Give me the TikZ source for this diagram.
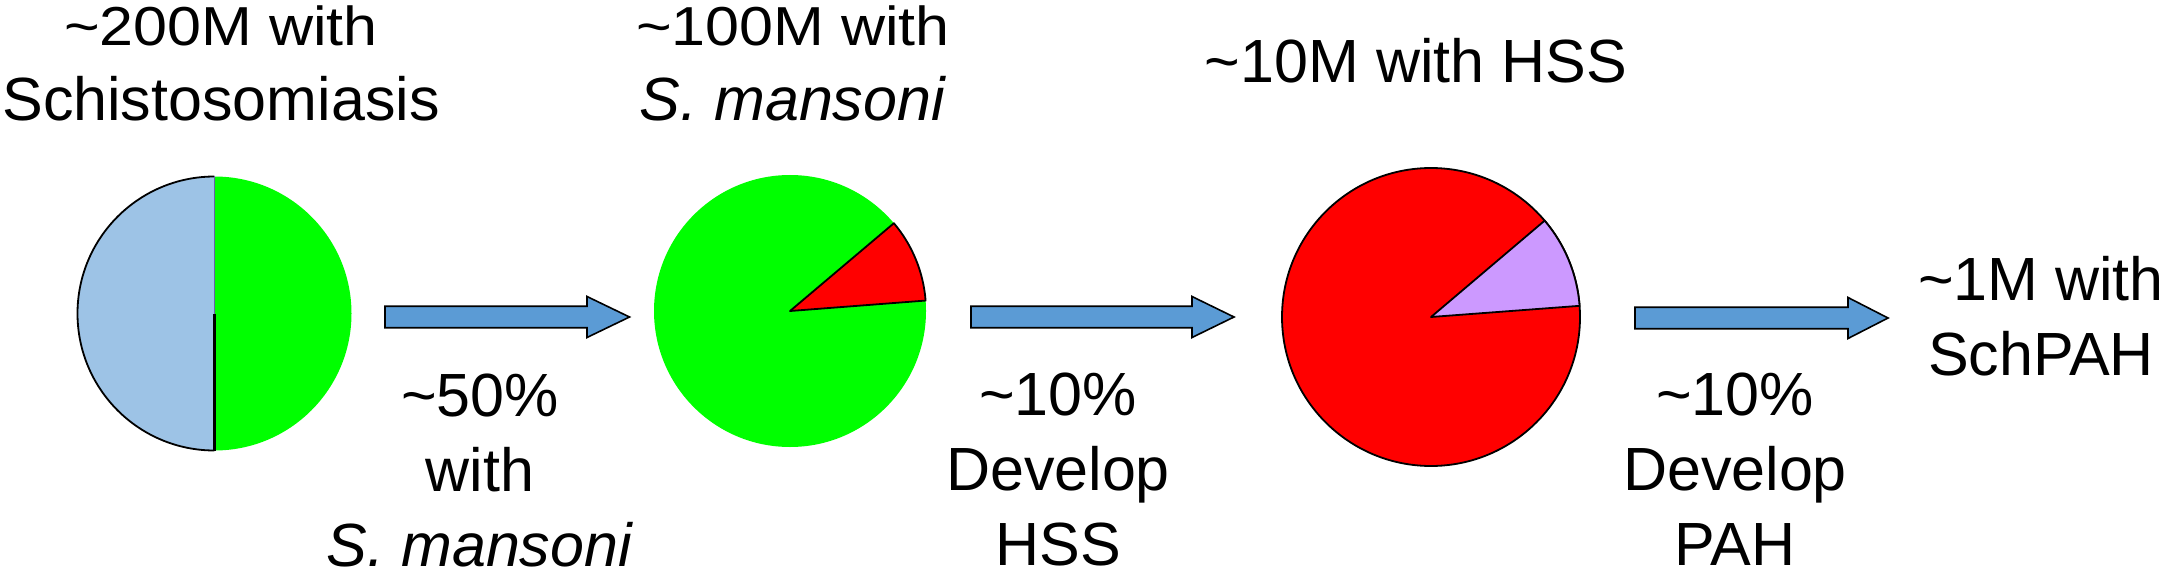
\documentclass[tikz,border=0pt]{standalone}
\usepackage{fontspec}
\setmainfont{Liberation Sans}
\usepackage{graphicx}
\definecolor{pieblue}{RGB}{157,195,230}
\definecolor{piegreen}{RGB}{0,255,0}
\definecolor{piered}{RGB}{255,0,0}
\definecolor{pieviolet}{RGB}{204,153,255}
\definecolor{arrowblue}{RGB}{91,155,213}
\definecolor{thinline}{RGB}{100,100,170}
\newcommand{\tl}{\char"007E\relax}
\newcommand{\lbl}[1]{\begin{tabular}[t]{@{}c@{}}#1\end{tabular}}
\newcommand{\sq}[1]{\scalebox{1}[0.9]{#1}}
\tikzset{
  txt/.style={anchor=base, inner sep=0pt, font=\fontsize{61}{75}\selectfont},
  piebox/.style={circle, inner sep=0pt, minimum size=#1},
  outl/.style={draw=black, line width=1.8pt, line join=round},
  blockarr/.style={fill=arrowblue, draw=black, line width=1.6pt, line join=miter},
}
\newcommand{\blockarrow}[3]{% start coord, head-base x offset, tip coord
  \draw[blockarr] ($(#1)+(0,10.75)$) -- ($(#1)+(#2,10.75)$) -- ($(#1)+(#2,20.5)$) -- (#3)
    -- ($(#1)+(#2,-20.5)$) -- ($(#1)+(#2,-10.75)$) -- ($(#1)+(0,-10.75)$) -- cycle;}
\usetikzlibrary{calc}
\begin{document}
\begin{tikzpicture}[x=1pt,y=1pt]
\useasboundingbox (0,0) rectangle (2165,566);

% ---------- pie 1 ----------
\node[piebox=274pt] (pie1) at (214.5,252.5) {};
\fill[pieblue] (pie1.center) -- ++(90:137pt) arc[start angle=90, end angle=270, radius=137pt] -- cycle;
\fill[piegreen] (pie1.center) -- ++(-90:137pt) arc[start angle=-90, end angle=90, radius=137pt] -- cycle;
\draw[outl] ($(pie1.center)+(90:137pt)$) arc[start angle=90, end angle=270, radius=137pt];
\draw[black, line width=2.6pt] (pie1.center) -- (pie1.south);
\draw[thinline, line width=0.9pt] (pie1.center) -- (pie1.north);

% ---------- pie 2 ----------
\node[piebox=272pt] (pie2) at (790,255) {};
\fill[piegreen] (pie2.center) circle[radius=136pt];
\draw[outl, fill=piered] (pie2.center) -- ++(4.4:136pt) arc[start angle=4.4, end angle=40.2, radius=136pt] -- cycle;

% ---------- pie 3 ----------
\node[piebox=298pt] (pie3) at (1431,249) {};
\draw[outl, fill=piered] (pie3.center) circle[radius=149pt];
\draw[outl, fill=pieviolet] (pie3.center) -- ++(4.3:149pt) arc[start angle=4.3, end angle=40.3, radius=149pt] -- cycle;

% ---------- arrows ----------
\coordinate (a1s) at (385,249);  \coordinate (a1e) at (629.5,249);
\coordinate (a2s) at (971,249);  \coordinate (a2e) at (1234,249);
\coordinate (a3s) at (1635,248); \coordinate (a3e) at (1888,248);
\blockarrow{a1s}{202}{a1e}
\blockarrow{a2s}{221}{a2e}
\blockarrow{a3s}{213}{a3e}

% ---------- labels ----------
\node[txt] (t1) at (221,520) {\lbl{\sq{\tl200M with}\\Schistosomiasis}};
\node[txt] (t2) at (793,520) {\lbl{\sq{\tl100M with}\\\textit{S. mansoni}}};
\node[txt] (t3) at (1416,483) {\tl10M with HSS};
\node[txt] (t4) at (2041,266) {\lbl{\tl1M with\\SchPAH}};

\node[txt] (l1) at (480,150) {\lbl{\tl50\%\\with\\\textit{S. mansoni}}};
\node[txt] (l2) at (1058,151) {\lbl{\tl10\%\\Develop\\HSS}};
\node[txt] (l3) at (1735,151) {\lbl{\tl10\%\\Develop\\PAH}};
\end{tikzpicture}
\end{document}
